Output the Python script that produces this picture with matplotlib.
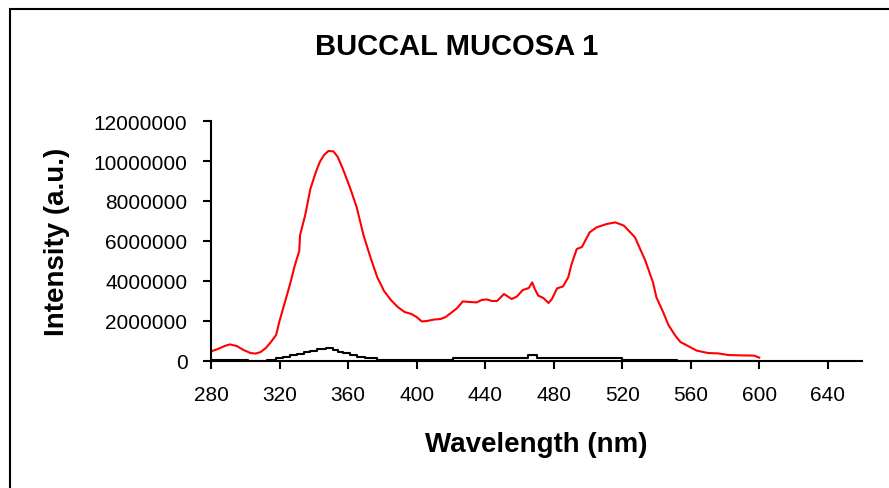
import numpy as np
import matplotlib
matplotlib.use('Agg')
import matplotlib.pyplot as plt
from matplotlib.patches import Rectangle

plt.rcParams['font.family'] = ['Liberation Sans', 'DejaVu Sans']

## red spectrum (wavelength in nm, intensity in millions)
wl_red = [280, 284, 288, 291, 295, 299, 303, 306, 309, 312, 315, 318, 320, 323, 326,
          329, 331.5, 332, 335, 338, 341, 343.5, 346, 348.5, 351.5, 354, 357, 361, 365,
          369, 373, 377, 381, 385, 389, 393, 397, 400, 403, 406, 410, 414, 417, 420,
          423.5, 427, 431, 435, 438, 441, 444, 447, 451, 455.5, 458.5, 462, 465.5,
          467.5, 469, 471, 474, 477, 479, 482, 485.5, 488.5, 490.5, 493.5, 496.5, 501,
          505, 511, 516, 521, 524, 527.5, 530.5, 533.5, 538, 540, 544, 547, 551, 554,
          558, 563.5, 570, 576, 582, 590, 597, 600]
int_red = [0.48, 0.6, 0.75, 0.83, 0.75, 0.55, 0.4, 0.37, 0.45, 0.65, 0.95, 1.3, 2.0, 2.9,
           3.8, 4.8, 5.5, 6.3, 7.3, 8.6, 9.4, 9.95, 10.3, 10.5, 10.48, 10.2, 9.6, 8.7,
           7.7, 6.3, 5.2, 4.2, 3.5, 3.05, 2.7, 2.45, 2.35, 2.2, 1.98, 2.0, 2.07, 2.1,
           2.2, 2.4, 2.63, 2.98, 2.95, 2.93, 3.05, 3.08, 3.0, 3.0, 3.35, 3.1, 3.22,
           3.55, 3.65, 3.93, 3.6, 3.27, 3.15, 2.9, 3.1, 3.63, 3.73, 4.18, 4.85, 5.6,
           5.7, 6.43, 6.68, 6.85, 6.93, 6.77, 6.5, 6.18, 5.6, 5.02, 3.93, 3.18, 2.43,
           1.8, 1.27, 0.95, 0.77, 0.52, 0.4, 0.38, 0.3, 0.28, 0.27, 0.17]

## black spectrum (stepped)
wl_blk = [280, 301.5, 312.5, 318, 322, 326, 330, 334, 338, 342, 347, 351, 354, 357,
          361, 365, 370, 377, 421, 465, 470.5, 520, 552, 600]
int_blk = [0.075, 0.01, 0.065, 0.13, 0.2, 0.28, 0.36, 0.44, 0.52, 0.6, 0.63, 0.56,
           0.47, 0.38, 0.3, 0.22, 0.14, 0.075, 0.17, 0.3, 0.17, 0.07, 0.015, 0.015]

xticks = [280, 320, 360, 400, 440, 480, 520, 560, 600, 640]
yticks = [0, 2000000, 4000000, 6000000, 8000000, 10000000, 12000000]

fig = plt.figure(figsize=(8.89, 4.89), dpi=100)
ax = fig.add_axes([211/889, 1-362/489, (862-211)/889, (362-122)/489])

ax.plot(wl_blk, np.array(int_blk)*1e6, color='black', lw=1.5, drawstyle='steps-post')
ax.plot(wl_red, np.array(int_red)*1e6, color='red', lw=1.5)

ax.set_xlim(280, 660)
ax.set_ylim(0, 12000000)
ax.set_xticks(xticks)
ax.set_yticks(yticks)
ax.set_yticklabels([str(v) for v in yticks])
ax.tick_params(direction='out', length=6, width=1.5, labelsize=15, pad=11)
for s in ['top', 'right']:
    ax.spines[s].set_visible(False)
for s in ['left', 'bottom']:
    ax.spines[s].set_linewidth(1.5)

fig.text(536.5/889, 1-445/489, 'Wavelength (nm)', ha='center', va='center',
         fontsize=20, fontweight='bold')
fig.text(57/889, 1-242/489, 'Intensity (a.u.)', ha='center', va='center',
         fontsize=20, fontweight='bold', rotation=90)
fig.text(457/889, 1-47/489, 'BUCCAL MUCOSA 1', ha='center', va='center',
         fontsize=21, fontweight='bold')

## chart area border
fig.add_artist(Rectangle((9.5/889, -0.1), 1.2, 1.1-9.5/489, transform=fig.transFigure,
                         fill=False, edgecolor='black', lw=1.5))

fig.savefig('out.png', dpi=100)
